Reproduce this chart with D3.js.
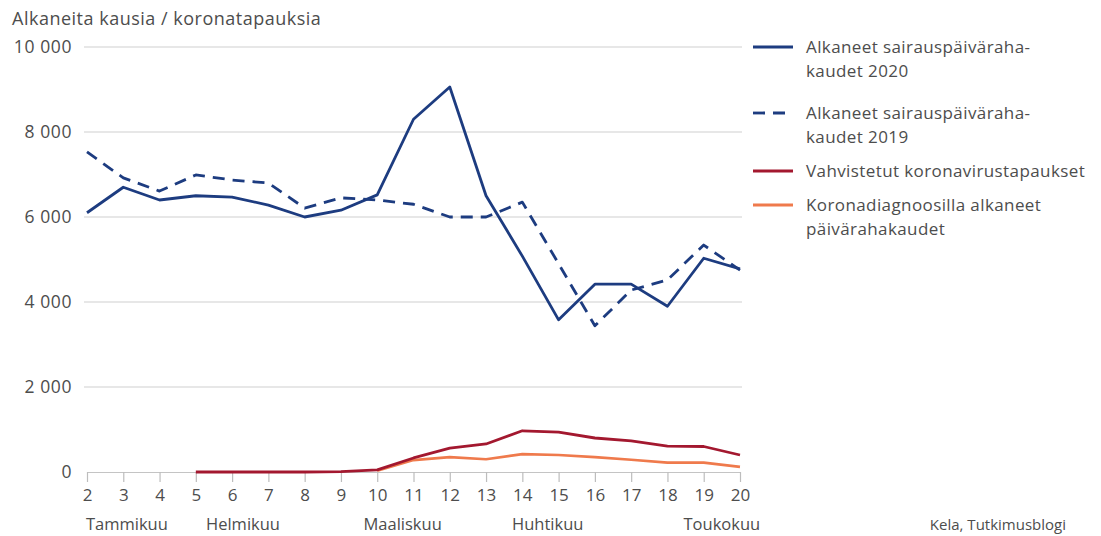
<!DOCTYPE html>
<html><head><meta charset="utf-8">
<script src="https://cdn.jsdelivr.net/npm/d3@7"></script>
<style>
body{margin:0;background:#fff;}
svg text{font-family:"Open Sans",Lato,sans-serif;fill:#4d4d4d;}
</style></head>
<body><svg id="c" width="1101" height="536"></svg>
<script>
const weeks = [2,3,4,5,6,7,8,9,10,11,12,13,14,15,16,17,18,19,20];
const sick2020 = [6100,6700,6400,6500,6470,6280,6000,6160,6520,8300,9060,6500,5080,3580,4420,4420,3900,5030,4780];
const sick2019 = [7530,6920,6610,6990,6870,6800,6210,6450,6400,6300,6000,6000,6350,4900,3440,4280,4520,5340,4750];
const coronaWeeks = [5,6,7,8,9,10,11,12,13,14,15,16,17,18,19,20];
const confirmed = [0,0,0,0,10,50,330,560,660,970,940,800,730,610,600,400];
const coronaDiagWeeks = [10,11,12,13,14,15,16,17,18,19,20];
const coronaDiag = [30,280,350,300,420,400,350,290,220,220,120];
const yTicks = [0,2000,4000,6000,8000,10000];
const monthLabels = ["Tammikuu","Helmikuu","Maaliskuu","Huhtikuu","Toukokuu"];
const monthPos = [3.1,6.3,10.7,14.7,19.5];
const legendLabels = [["Alkaneet sairauspäiväraha-","kaudet 2020"],["Alkaneet sairauspäiväraha-","kaudet 2019"],["Vahvistetut koronavirustapaukset"],["Koronadiagnoosilla alkaneet","päivärahakaudet"]];
const yTitle = "Alkaneita kausia / koronatapauksia";
const source = "Kela, Tutkimusblogi";

const navy = "#1d3c80", red = "#a3182f", orange = "#ef7a4c";
const svg = d3.select("#c");
const x = d3.scaleLinear().domain([2,20]).range([87,740]);
const y = d3.scaleLinear().domain([0,10000]).range([472,47]);
const fmt = v => v===0 ? "0" : d3.format(",")(v).replace(/,/g," ");

// gridlines
svg.append("g").selectAll("line").data(yTicks.filter(d=>d>0)).join("line")
  .attr("x1",84).attr("x2",742).attr("y1",d=>y(d)).attr("y2",d=>y(d))
  .attr("stroke","#cfcfcf").attr("stroke-width",1.2);
// y labels
svg.append("g").selectAll("text").data(yTicks).join("text")
  .attr("x",72).attr("y",d=>y(d)).attr("dy","0.35em").attr("text-anchor","end")
  .attr("font-size",17.5).attr("letter-spacing",0.6).text(fmt);
svg.append("text").attr("x",12).attr("y",25).attr("font-size",18).attr("letter-spacing",0.5).text(yTitle);

// x axis
const xa = svg.append("g").attr("transform","translate(0,472)")
  .call(d3.axisBottom(x).tickValues(weeks).tickSize(10).tickSizeOuter(0).tickPadding(7).tickFormat(d3.format("d")));
xa.select(".domain").attr("stroke","#c4c4c4").attr("stroke-width",1.2);
xa.selectAll(".tick line").attr("stroke","#bdbdbd").attr("stroke-width",1.2);
xa.selectAll(".tick text").attr("font-size",17).attr("font-family","Lato,sans-serif").attr("fill","#4d4d4d");

svg.append("g").selectAll("text").data(monthLabels).join("text")
  .attr("x",(d,i)=>x(monthPos[i])).attr("y",530).attr("text-anchor","middle")
  .attr("font-family","Lato,sans-serif").attr("font-size",16.5).text(d=>d);

svg.append("text").attr("x",1066).attr("y",530).attr("text-anchor","end").attr("font-size",15).text(source);

const line = d3.line().x(d=>x(d[0])).y(d=>y(d[1]));
const draw = (ws, vs, color, dash, w) => svg.append("path")
  .datum(ws.map((wk,i)=>[wk,vs[i]])).attr("d",line).attr("fill","none")
  .attr("stroke",color).attr("stroke-width",w).attr("stroke-linejoin","round")
  .attr("stroke-dasharray",dash);
draw(coronaDiagWeeks, coronaDiag, orange, null, 2.6);
draw(coronaWeeks, confirmed, red, null, 2.8);
draw(weeks, sick2019, navy, "12,8", 2.8);
draw(weeks, sick2020, navy, null, 2.8);

// legend
const legY = [47,113,171,205];
const legColor = [navy,navy,red,orange];
const legDash = [null,"12,8",null,null];
const lg = svg.append("g");
legendLabels.forEach((lab,i)=>{
  lg.append("line").attr("x1",753).attr("x2",793).attr("y1",legY[i]).attr("y2",legY[i])
    .attr("stroke",legColor[i]).attr("stroke-width",2.8).attr("stroke-dasharray",legDash[i]);
  lab.forEach((t,j)=>lg.append("text").attr("x",806).attr("y",legY[i]+j*24).attr("dy","0.35em")
    .attr("font-size",17).attr("letter-spacing",0.4).text(t));
});
</script></body></html>
